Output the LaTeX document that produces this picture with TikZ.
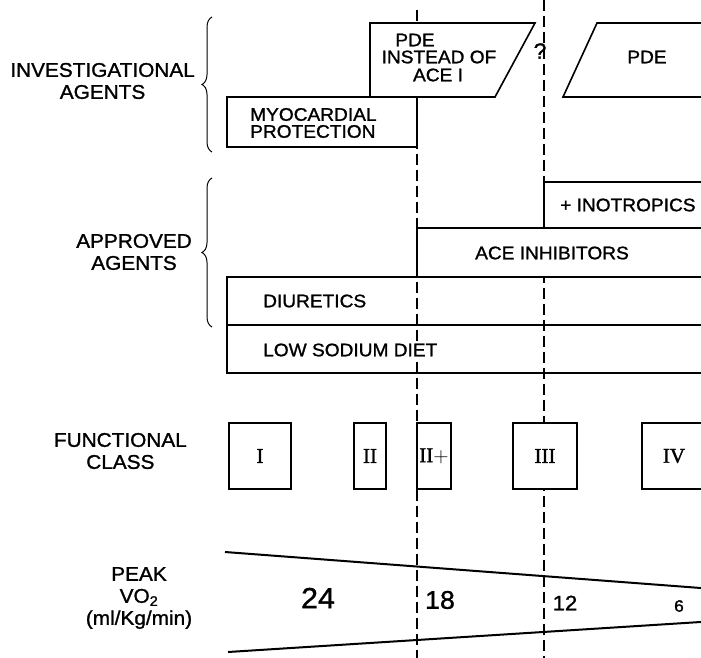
\documentclass[tikz,border=0pt]{standalone}
\usepackage{fontspec}
\setmainfont{Liberation Sans}[FakeStretch=1.05, FakeBold=1.2]
\newfontfamily\romanfont{Liberation Serif}[FakeBold=1.5]
\usetikzlibrary{decorations.pathreplacing}

\begin{document}
\begin{tikzpicture}[x=1pt, y=-1pt,
  bar/.style={line width=1.6pt},
  guide/.style={line width=1.5pt, dash pattern=on 11pt off 5pt},
  slope/.style={line width=2pt},
  lbl/.style={font=\fontsize{19.8}{22}\selectfont, align=center, inner sep=0pt},
  txt/.style={font=\fontsize{18.2}{17}\selectfont, align=left, inner sep=0pt},
  clsbox/.style={draw, fill=white, line width=1.6pt, minimum height=66pt, inner sep=0pt,
    font=\romanfont\fontsize{21}{22}\selectfont},
  brc/.style={decorate, decoration={brace, amplitude=10pt}, line width=1pt}]
  \useasboundingbox (0,0) rectangle (701,658);

  % Dashed guide lines
  \coordinate (g1top) at (417,10);
  \coordinate (g1bot) at (417,658);
  \coordinate (g2top) at (544,0);
  \coordinate (g2bot) at (544,658);
  \draw[guide] (g1top) -- (g1bot);
  \draw[guide] (g2top) -- (g2bot);

  % Investigational agents
  \draw[bar, fill=white] (370,23) -- (535,23) -- (495,97) -- (370,97) -- cycle;
  \node[txt] (pdeA) at (415,40) {PDE};
  \node[txt] (instead) at (439,57) {INSTEAD OF};
  \node[txt] (acei) at (438,75) {ACE I};
  \draw[bar, fill=white] (597,23) -- (710,23) -- (710,97) -- (563,97) -- cycle;
  \node[txt] (pdeB) at (647,57) {PDE};
  \draw[bar, fill=white] (227,97) rectangle (417,147);
  \node[txt, anchor=west] (myo) at (250,123) {MYOCARDIAL\\PROTECTION};
  \node[font=\fontsize{22}{22}\selectfont, inner sep=0pt] (qmark) at (540,51) {?};

  % Approved agents
  \draw[bar, fill=white] (544,182) rectangle (710,228);
  \node[txt, anchor=west] (ino) at (560,205) {+ INOTROPICS};
  \draw[bar, fill=white] (417,228) rectangle (710,277);
  \node[txt] (ace) at (552,253) {ACE INHIBITORS};
  \draw[bar] (227,277) rectangle (710,325);
  \node[txt, anchor=west] (diu) at (263,301) {DIURETICS};
  \draw[bar] (227,325) rectangle (710,373);
  \node[txt, anchor=west, fill=white, inner sep=1pt] (lsd) at (262,350) {LOW SODIUM DIET};

  % Braces and row labels
  \draw[brc] (212,152) -- (212,17);
  \draw[brc] (212,327) -- (212,178);
  \node[lbl, anchor=east] (inv) at (195,81) {INVESTIGATIONAL\\AGENTS};
  \node[lbl, anchor=east] (appr) at (192,252) {APPROVED\\AGENTS};
  \node[lbl, anchor=east] (func) at (187,451) {FUNCTIONAL\\CLASS};
  \node[lbl] (peak) at (139,598) {PEAK\\VO\textsubscript{2}\\(ml/Kg/min)};

  % Functional class boxes
  \node[clsbox, minimum width=62pt] (c1) at (260,456) {I};
  \node[clsbox, minimum width=32pt] (c2) at (370,456) {II};
  \node[clsbox, minimum width=34pt] (c2p) at (434,456) {II\textsf{+}};
  \node[clsbox, minimum width=64pt] (c3) at (545,456) {III};
  \node[clsbox, minimum width=64pt] (c4) at (674,456) {IV};

  % Peak VO2 wedge
  \draw[slope] (225,552) -- (710,588.7);
  \draw[slope] (228,652) -- (710,621.4);
  \node[font=\fontsize{29}{30}\selectfont] (v24) at (318,598) {24};
  \node[font=\fontsize{25.5}{27}\selectfont] (v18) at (440,600) {18};
  \node[font=\fontsize{21}{23}\selectfont] (v12) at (565,603) {12};
  \node[font=\fontsize{16.5}{18}\selectfont] (v6) at (679,606) {6};
\end{tikzpicture}
\end{document}
